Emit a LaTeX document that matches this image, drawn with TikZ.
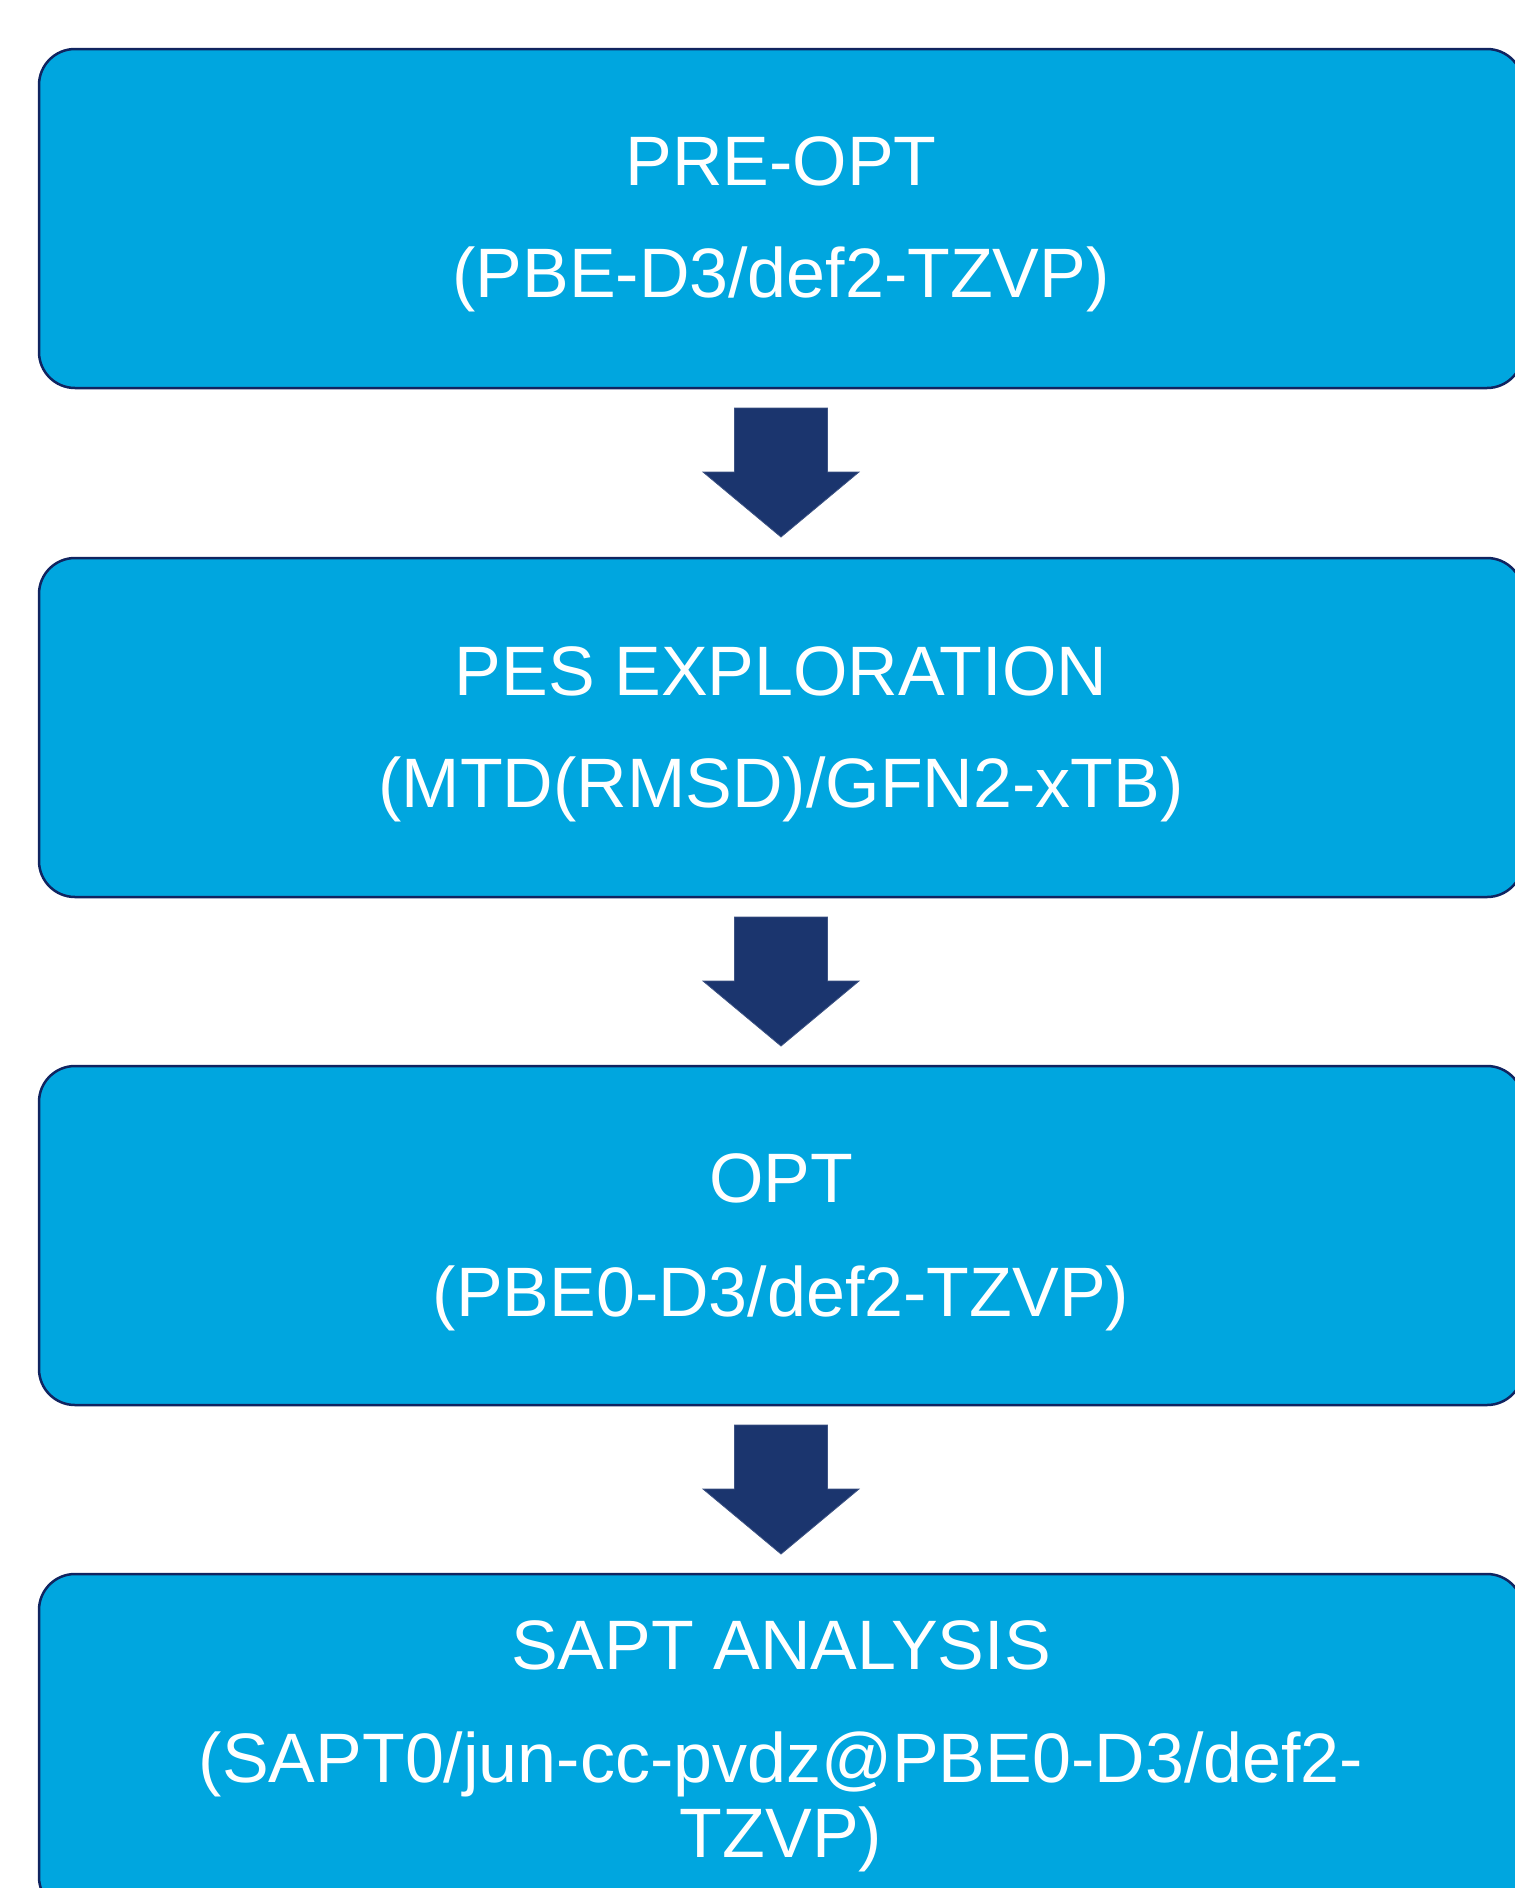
\documentclass[tikz,border=0pt]{standalone}
\usepackage{fontspec}
\setmainfont{Liberation Sans}
\usetikzlibrary{calc}
\definecolor{boxfill}{RGB}{0,166,223}
\definecolor{boxline}{RGB}{16,36,96}
\definecolor{arrowfill}{RGB}{27,53,110}
\begin{document}
\begin{tikzpicture}[x=1pt,y=-1pt,
  stagebox/.style={draw=boxline, line width=2.5pt, fill=boxfill, rounded corners=36pt,
    minimum width=1484pt, minimum height=339pt, inner sep=0pt, outer sep=0pt, anchor=north west},
  steplabel/.style={text=white, font=\fontsize{70}{76}\selectfont, anchor=base, inner sep=0pt},
  blockarrow/.style={fill=arrowfill, draw=arrowfill!85!white, line width=0.8pt, line join=miter}]
\useasboundingbox (0,0) rectangle (1515,1888);
\clip (0,0) rectangle (1515,1888);
\fill[white] (0,0) rectangle (1515,1888);

\node[stagebox] (b1) at (39,49) {};
\node[stagebox] (b2) at (39,558) {};
\node[stagebox] (b3) at (39,1066) {};
\node[stagebox] (b4) at (39,1574) {};

\node[steplabel] (t1a) at ($(b1.north)+(0,136)$) {PRE-OPT};
\node[steplabel] (t1b) at ($(b1.north)+(0,248)$) {(PBE-D3/def2-TZVP)};

\node[steplabel] (t2a) at ($(b2.north)+(0,137)$) {PES EXPLORATION};
\node[steplabel] (t2b) at ($(b2.north)+(0,249)$) {(MTD(RMSD)/GFN2-xTB)};

\node[steplabel] (t3a) at ($(b3.north)+(0,136)$) {OPT};
\node[steplabel] (t3b) at ($(b3.north)+(0,250)$) {(PBE0-D3/def2-TZVP)};

\node[steplabel] (t4a) at ($(b4.north)+(0,95)$) {SAPT ANALYSIS};
\node[steplabel] (t4b) at ($(b4.north)+(0,208)$) {(SAPT0/jun-cc-pvdz@PBE0-D3/def2-};
\node[steplabel] (t4c) at ($(b4.north)+(0,283)$) {TZVP)};

\path[blockarrow] ($(b1.south)+(-46.5,20)$) -- ++(93,0) -- ++(0,64) -- ++(31.5,0) -- ++(-78,65) -- ++(-78,-65) -- ++(31.5,0) -- cycle;
\path[blockarrow] ($(b2.south)+(-46.5,20)$) -- ++(93,0) -- ++(0,64) -- ++(31.5,0) -- ++(-78,65) -- ++(-78,-65) -- ++(31.5,0) -- cycle;
\path[blockarrow] ($(b3.south)+(-46.5,20)$) -- ++(93,0) -- ++(0,64) -- ++(31.5,0) -- ++(-78,65) -- ++(-78,-65) -- ++(31.5,0) -- cycle;
\end{tikzpicture}
\end{document}
